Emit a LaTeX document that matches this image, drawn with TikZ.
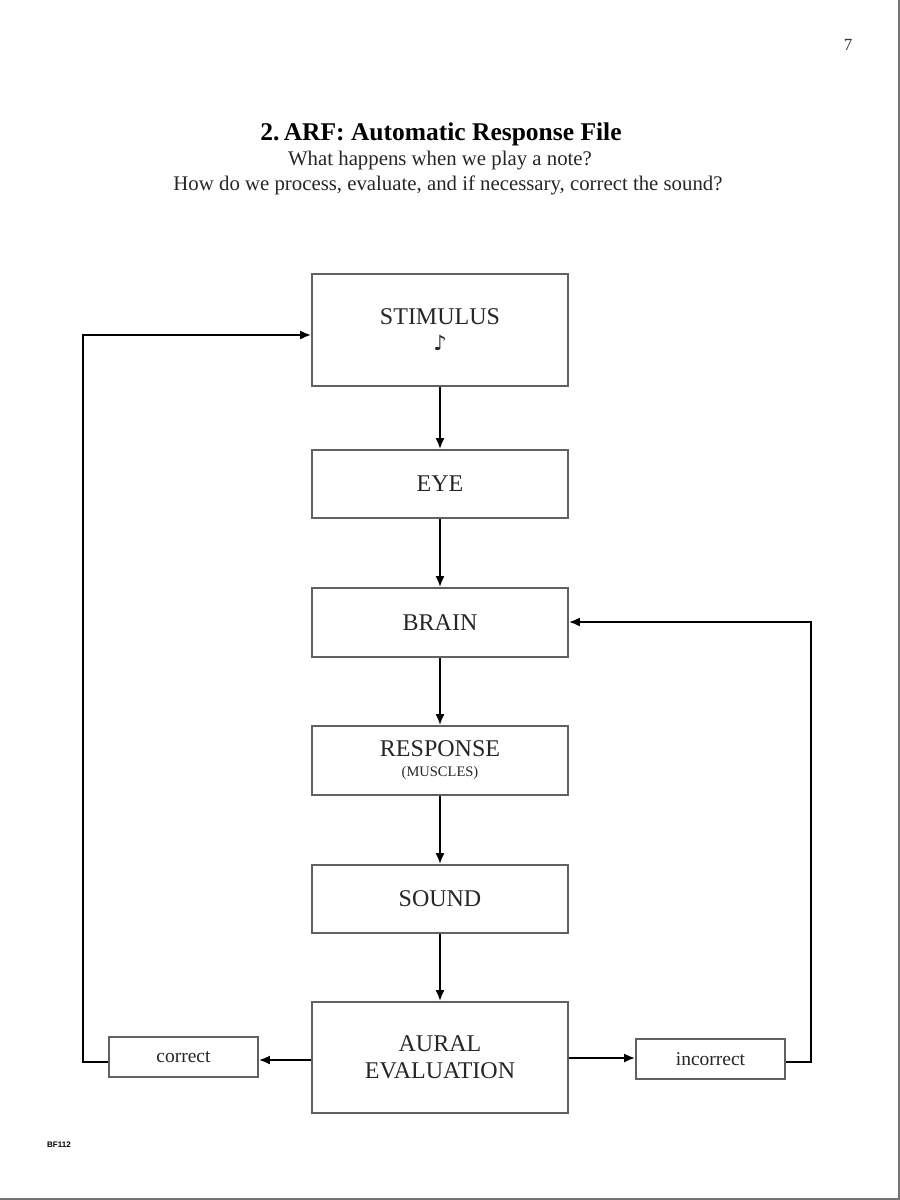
\documentclass[tikz,border=0pt]{standalone}
\usepackage{fontspec}
\setmainfont{Liberation Serif}
\newfontfamily\dejavu{DejaVu Sans}
\newfontfamily\lsans{Liberation Sans}
\usetikzlibrary{arrows.meta}
\begin{document}
\begin{tikzpicture}[x=1pt,y=-1pt,
  boxline/.style={draw=black!62,line width=1.7pt},
  flowbox/.style={boxline,rectangle,minimum width=256pt,inner sep=0pt,align=center,text=black!85,font=\fontsize{24}{27}\selectfont},
  smallbox/.style={boxline,rectangle,minimum width=149pt,minimum height=40pt,inner sep=0pt,text=black!85,font=\fontsize{19.5}{22}\selectfont},
  arr/.style={line width=2pt,-{Latex[length=11pt,width=9pt]}}]
\useasboundingbox (0,0) rectangle (900,1200);
\fill[white] (0,0) rectangle (900,1200);
\draw[black!55,line width=2pt] (899,0) -- (899,1199) -- (0,1199);
% header texts
\node[text=black!80] (pg) at (848,45) {\fontsize{17}{20}\selectfont 7};
\node (title) at (441,134) {\fontsize{25.5}{28}\selectfont\bfseries 2.\,ARF: Automatic Response File};
\node[text=black!85] (sub1) at (440,161) {\fontsize{20.8}{24}\selectfont What happens when we play a note?};
\node[text=black!85] (sub2) at (448,185) {\fontsize{20.8}{24}\selectfont How do we process, evaluate, and if necessary, correct the sound?};
\node (code) at (59,1145) {\lsans\bfseries\fontsize{8}{9}\selectfont BF112};
% boxes
\node[flowbox,minimum height=112pt] (stim) at (440,330) {STIMULUS\\[-1pt]{\dejavu\fontsize{21}{22}\selectfont ♪}};
\node[flowbox,minimum height=68pt] (eye) at (440,484) {EYE};
\node[flowbox,minimum height=69pt] (brain) at (440,622.5) {BRAIN};
\node[flowbox,minimum height=69pt] (resp) at (440,760.5) {RESPONSE\\[-7pt]{\fontsize{14.5}{16}\selectfont (MUSCLES)}};
\node[flowbox,minimum height=68pt] (sound) at (440,899) {SOUND};
\node[flowbox,minimum height=111pt] (aural) at (440,1057.5) {AURAL\\EVALUATION};
\node[smallbox] (corr) at (183.5,1057) {correct};
\node[smallbox] (incorr) at (710.5,1059) {incorrect};
% coordinates for loops
\coordinate (lb) at (83,1062);
\coordinate (lt) at (83,335);
\coordinate (rb) at (811,1062);
\coordinate (rt) at (811,622);
% vertical arrows
\draw[arr] (stim) -- (eye);
\draw[arr] (eye) -- (brain);
\draw[arr] (brain) -- (resp);
\draw[arr] (resp) -- (sound);
\draw[arr] (sound) -- (aural);
% horizontal arrows
\draw[arr] (aural.west |- 0,1060) -- (corr.east |- 0,1060);
\draw[arr] (aural.east |- 0,1058) -- (incorr.west |- 0,1058);
% loops
\draw[arr] (corr.west |- lb) -- (lb) -- (lt) -- (stim.west |- lt);
\draw[arr] (incorr.east |- rb) -- (rb) -- (rt) -- (brain.east |- rt);
\end{tikzpicture}
\end{document}
